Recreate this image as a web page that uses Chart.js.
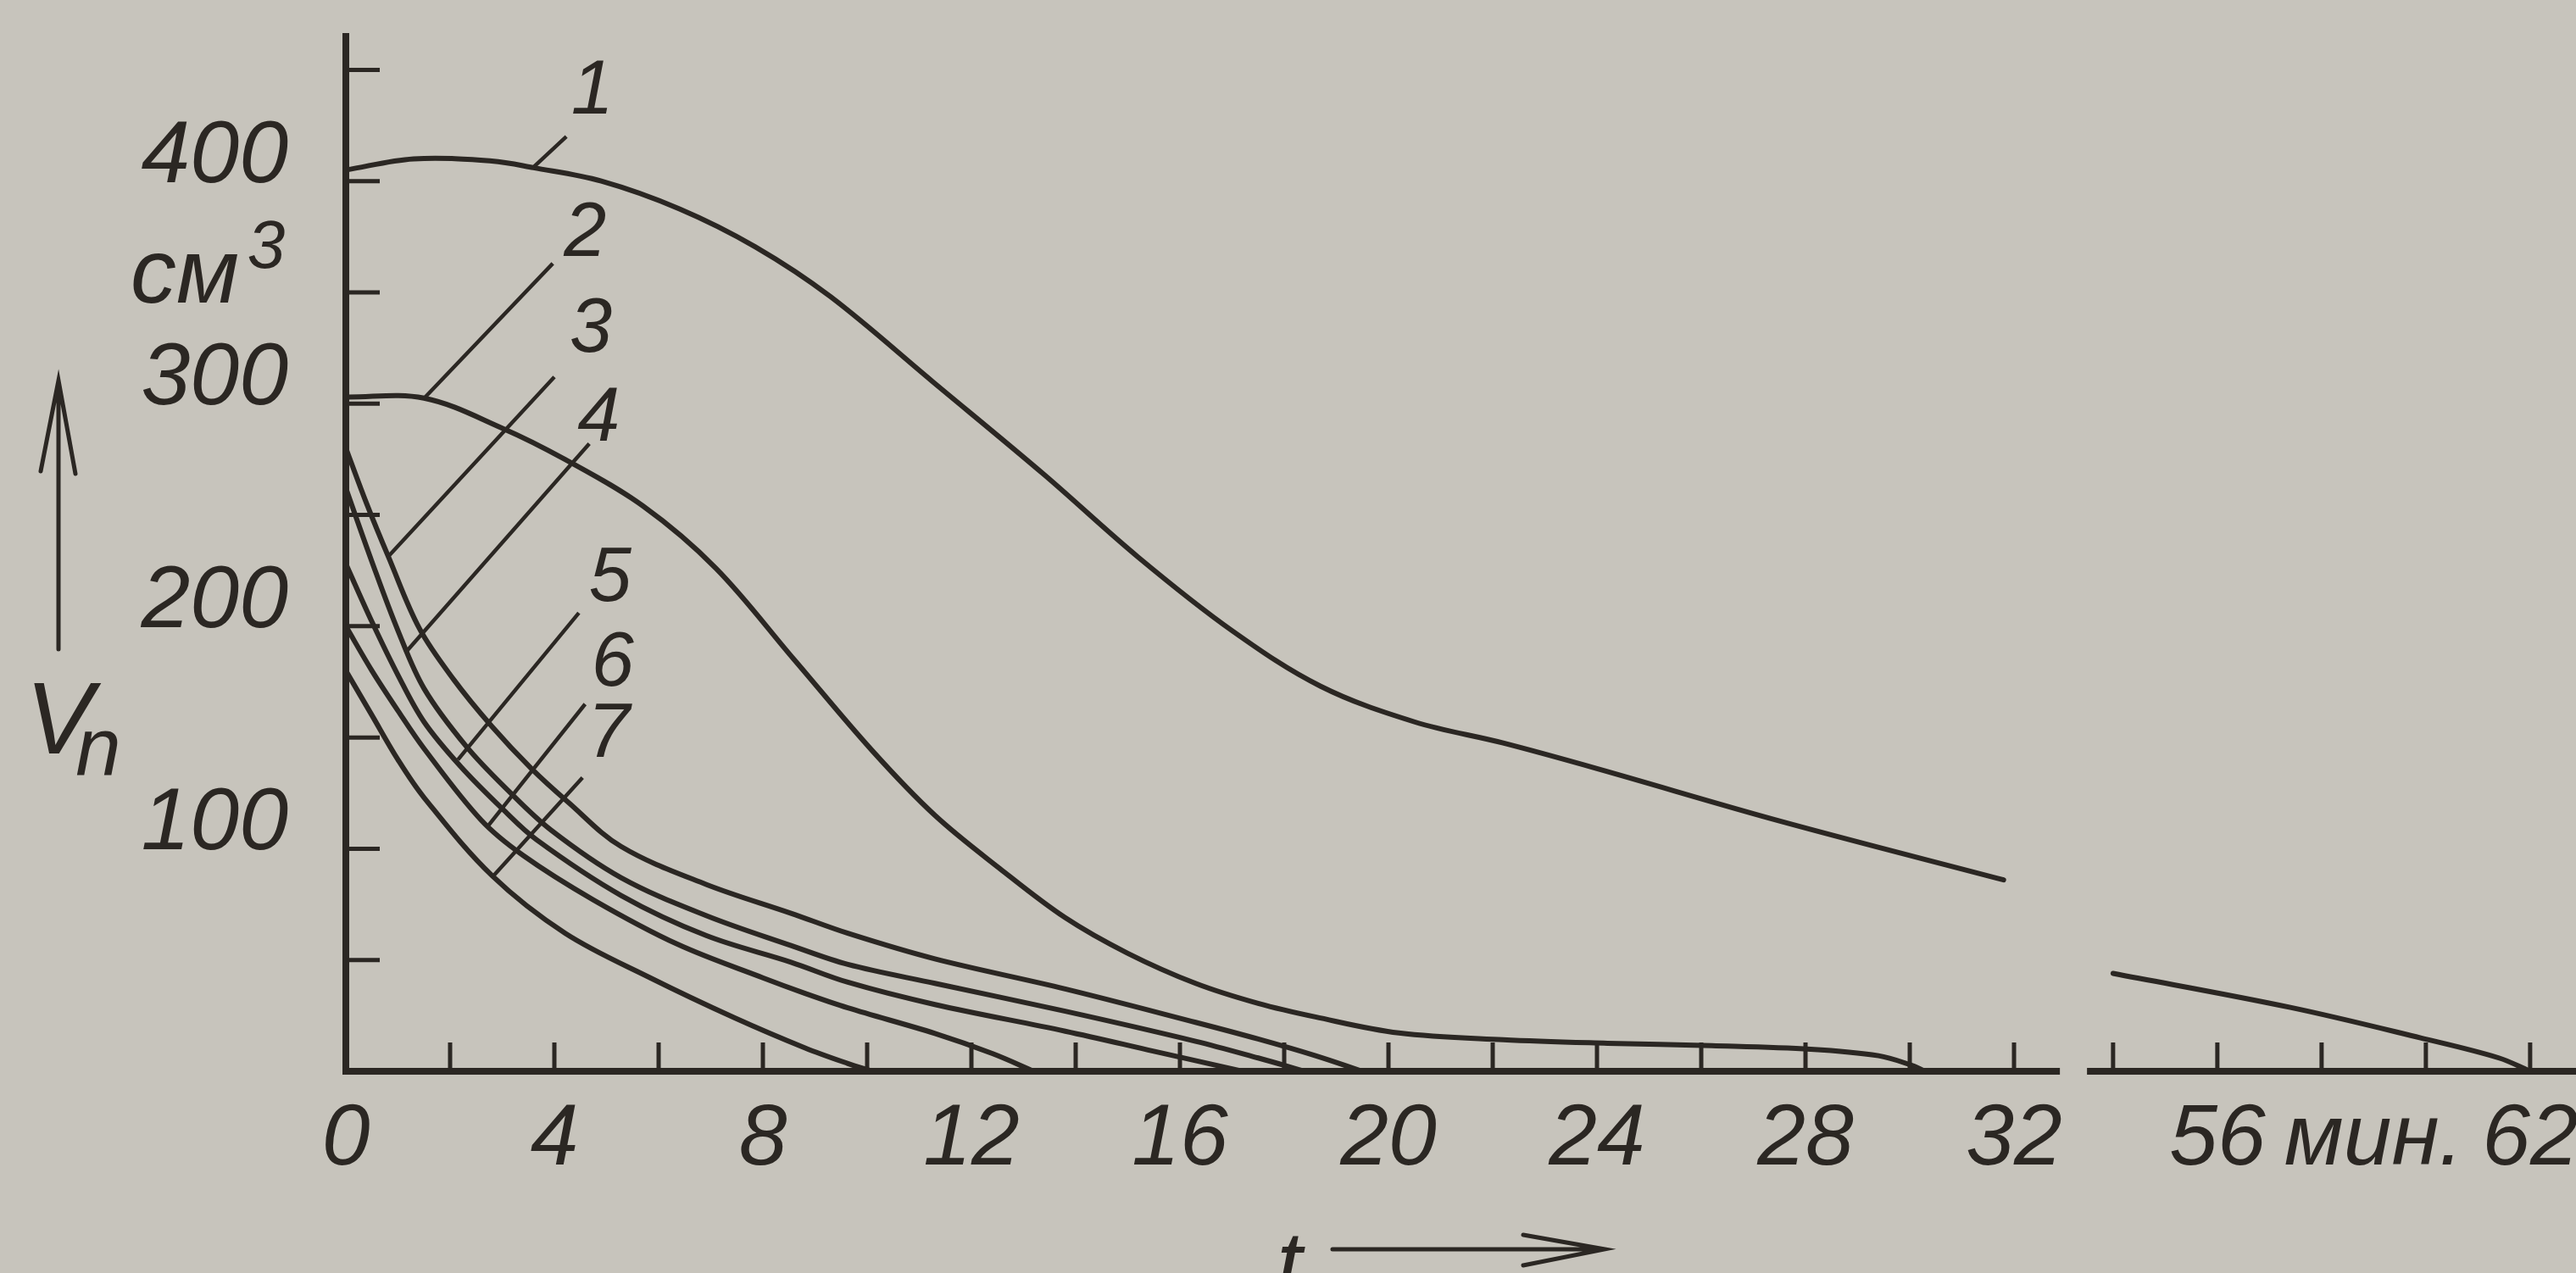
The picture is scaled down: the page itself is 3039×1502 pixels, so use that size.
<!DOCTYPE html>
<html>
<head>
<meta charset="utf-8">
<script src="https://cdn.jsdelivr.net/npm/chart.js@4.4.1/dist/chart.umd.min.js"></script>
<style>
html,body{margin:0;padding:0;background:#c7c4bc;overflow:hidden;}
#wrap{width:3039px;height:1502px;position:relative;}
canvas{display:block;}
</style>
</head>
<body>
<div id="wrap"><canvas id="c" width="3039" height="1502"></canvas></div>
<script>
// ---------- data (time t in minutes, volume V in cm^3) ----------
const t1  = [0, 1.3, 2.8, 3.6, 4.9, 6.4, 7.85, 9.3, 11.25, 13.4, 15.2, 17.0, 18.7, 20.5, 22.2, 24.0, 27.5, 31.8];
const v1  = [405, 410, 409, 406, 400, 387.5, 370.5, 348, 310, 268, 231, 198, 173, 157, 147.5, 136, 112.5, 86];
const t1b = [54, 57.4, 59.9, 61.4, 62];
const v1b = [44, 28.7, 15, 6, 0];

const t2 = [0, 1.5, 3.0, 4.2, 5.7, 7.1, 8.6, 10.1, 11.3, 12.55, 13.8, 15.0, 16.3, 17.5, 18.6, 20.2, 22.2, 24.2, 26.2, 28.1, 29.4, 30.0, 30.3];
const v2 = [303, 302.5, 289, 275, 254, 226, 185, 144, 115, 91, 69, 53, 39.5, 30.5, 24.4, 17.2, 14.2, 12.6, 11.5, 9.9, 7, 3, 0];

const t3 = [0, 0.4, 0.82, 1.41, 2.07, 2.8, 3.56, 4.26, 5.28, 6.91, 8.54, 9.63, 11.3, 13.8, 16.3, 17.5, 18.6, 19.5];
const v3 = [280, 255, 231, 199, 176, 155, 136, 121, 101, 84, 71, 62, 50.5, 37, 22, 14.5, 7, 0];

const t4 = [0, 0.5, 1.0, 1.5, 2.31, 3.12, 3.93, 5.28, 6.91, 8.54, 9.63, 11.3, 13.8, 16.3, 17.5, 18.4];
const v4 = [262, 229, 198, 172, 146, 126, 108.5, 87, 70, 56.5, 48, 39.5, 27, 13.5, 6, 0];

const t5 = [0, 0.5, 1.0, 1.5, 2.2, 3.0, 3.66, 5.28, 6.91, 8.54, 9.63, 11.3, 13.8, 15.5, 17.2];
const v5 = [228, 202, 178, 157, 137, 118, 104, 79, 61, 49, 40, 30, 18, 9, 0];

const t6 = [0, 0.5, 1.0, 1.5, 2.59, 3.4, 4.75, 6.37, 8.0, 8.81, 9.63, 11.3, 12.4, 13.2];
const v6 = [200, 180, 162, 145, 113, 97, 77, 57, 42, 35, 28.5, 17, 8, 0];

const t7 = [0, 0.5, 1.0, 1.5, 2.8, 4.21, 5.84, 7.46, 8.81, 9.63, 10.1];
const v7 = [180, 160, 140, 123, 88, 62, 42, 24, 10.5, 3.5, 0];

// axis ticks / labels
const xLabelTimes  = [0, 4, 8, 12, 16, 20, 24, 28, 32, 56, 59, 62];
const xLabelTexts  = ['0', '4', '8', '12', '16', '20', '24', '28', '32', '56', 'мин.', '62'];
const xMarkTimes   = [2, 4, 6, 8, 10, 12, 14, 16, 18, 20, 22, 24, 26, 28, 30, 32, 54, 56, 58, 60, 62];
const yLabelValues = [100, 200, 300, 400];
const yMarkValues  = [50, 100, 150, 200, 250, 300, 350, 400, 450];
const curveNames   = ['1', '2', '3', '4', '5', '6', '7'];

// ---------- axis break: times after the gap are drawn shifted left ----------
const BREAK_AFTER = 40;      // minutes
const BREAK_SHIFT = 20.1;    // minutes removed by the break
const brk = t => (t > BREAK_AFTER ? t - BREAK_SHIFT : t);
const AXIS_GAP = [32.88, 53.5];

// annotation placement (data coordinates)
const labelPos = [[4.73, 440], [4.59, 376], [4.70, 333], [4.85, 293], [5.07, 221], [5.12, 183], [5.04, 151]];
const leaders = [
  [4.23, 420, 3.61, 406.5],
  [3.97, 363, 1.5, 302.4],
  [4.0, 312, 0.8, 231],
  [4.67, 282, 1.14, 188],
  [4.47, 206, 2.15, 140],
  [4.59, 165, 2.72, 110],
  [4.54, 132, 2.8, 87]
];

const INK = '#2b2723';
const PAPER = '#c7c4bc';
const FAM = "'Liberation Sans Narrow','Liberation Sans','DejaVu Sans',sans-serif";

const pts = (ts, vs) => ts.map((t, i) => ({ x: brk(t), y: vs[i] }));
const series = [[t1, v1], [t1b, v1b], [t2, v2], [t3, v3], [t4, v4], [t5, v5], [t6, v6], [t7, v7]];
const datasets = series.map(([ts, vs]) => ({
  data: pts(ts, vs),
  borderColor: INK,
  borderWidth: 6,
  pointRadius: 0,
  fill: false,
  tension: 0.35,
  borderCapStyle: 'round',
  borderJoinStyle: 'round'
}));

const noPad = s => { s.paddingTop = 0; s.paddingBottom = 0; s.paddingLeft = 0; s.paddingRight = 0; };

const decor = {
  id: 'decor',
  beforeDraw(chart) {
    const c = chart.ctx;
    c.save();
    c.fillStyle = PAPER;
    c.fillRect(0, 0, chart.width, chart.height);
    c.restore();
  },
  afterDatasetsDraw(chart) {
    const { ctx, scales: { x, y }, chartArea: a } = chart;
    const X = t => x.getPixelForValue(brk(t));
    const Y = v => y.getPixelForValue(v);
    ctx.save();
    ctx.strokeStyle = INK;
    ctx.fillStyle = INK;
    // x-axis line with break
    const y0 = Y(0);
    ctx.lineWidth = 8;
    ctx.lineCap = 'butt';
    ctx.beginPath();
    ctx.moveTo(a.left - 4, y0); ctx.lineTo(X(AXIS_GAP[0]), y0);
    ctx.moveTo(X(AXIS_GAP[1]), y0); ctx.lineTo(a.right, y0);
    ctx.stroke();
    // tick marks
    ctx.lineWidth = 5;
    ctx.beginPath();
    xMarkTimes.forEach(t => { const px = X(t); ctx.moveTo(px, y0); ctx.lineTo(px, y0 - 34); });
    yMarkValues.forEach(v => { const py = Y(v); ctx.moveTo(a.left, py); ctx.lineTo(a.left + 40, py); });
    ctx.stroke();
    // leader lines
    ctx.lineWidth = 4.5;
    ctx.beginPath();
    leaders.forEach(([ta, va, tb, vb]) => { ctx.moveTo(X(ta), Y(va)); ctx.lineTo(X(tb), Y(vb)); });
    ctx.stroke();
    // curve numbers
    ctx.font = `italic 90px ${FAM}`;
    ctx.textAlign = 'center';
    ctx.textBaseline = 'middle';
    curveNames.forEach((n, i) => ctx.fillText(n, X(labelPos[i][0]), Y(labelPos[i][1])));
    ctx.restore();
  },
  afterDraw(chart) {
    const { ctx, chartArea: a } = chart;
    ctx.save();
    ctx.strokeStyle = INK;
    ctx.fillStyle = INK;
    ctx.textBaseline = 'alphabetic';
    ctx.textAlign = 'center';
    // unit cm^3
    ctx.font = `italic 108px ${FAM}`;
    ctx.fillText('см', a.left - 190, 357);
    ctx.font = `italic 80px ${FAM}`;
    ctx.fillText('3', a.left - 94, 316);
    // V_n with upward arrow
    ctx.font = `italic 120px ${FAM}`;
    ctx.fillText('V', 70, 889);
    ctx.font = `italic 96px ${FAM}`;
    ctx.fillText('n', 116, 914);
    ctx.lineWidth = 5;
    ctx.lineCap = 'round';
    ctx.beginPath();
    ctx.moveTo(69, 766); ctx.lineTo(69, 452);
    ctx.moveTo(48, 556); ctx.lineTo(69, 449); ctx.lineTo(89, 559);
    ctx.stroke();
    // t with rightward arrow
    ctx.font = `italic 108px ${FAM}`;
    ctx.fillText('t', 1521, 1528);
    ctx.beginPath();
    ctx.moveTo(1572, 1474); ctx.lineTo(1890, 1474);
    ctx.moveTo(1797, 1457); ctx.lineTo(1893, 1474); ctx.lineTo(1797, 1493);
    ctx.stroke();
    ctx.restore();
  }
};

new Chart(document.getElementById('c'), {
  type: 'line',
  data: { datasets },
  plugins: [decor],
  options: {
    responsive: false,
    animation: false,
    devicePixelRatio: 1,
    layout: { padding: { top: 43, left: 0, right: 0, bottom: 0 } },
    plugins: { legend: { display: false }, tooltip: { enabled: false }, title: { display: false } },
    scales: {
      x: {
        type: 'linear',
        min: 0,
        max: 42.78,
        border: { display: false },
        grid: { display: false, drawTicks: false },
        afterBuildTicks: s => { s.ticks = xLabelTimes.map(t => ({ value: brk(t) })); },
        ticks: {
          autoSkip: false,
          maxRotation: 0,
          padding: 20,
          color: INK,
          font: { family: FAM, size: 102, style: 'italic' },
          callback: (v, i) => xLabelTexts[i]
        },
        afterFit: s => { s.height = 238; noPad(s); }
      },
      y: {
        type: 'linear',
        min: 0,
        max: 465,
        border: { display: true, color: INK, width: 8 },
        grid: { display: false, drawTicks: false },
        afterBuildTicks: s => { s.ticks = yLabelValues.map(v => ({ value: v })); },
        ticks: {
          autoSkip: false,
          padding: 68,
          labelOffset: -28,
          color: INK,
          font: { family: FAM, size: 104, style: 'italic' },
          callback: v => String(v)
        },
        afterFit: s => { s.width = 408; noPad(s); }
      }
    }
  }
});
</script>
</body>
</html>
